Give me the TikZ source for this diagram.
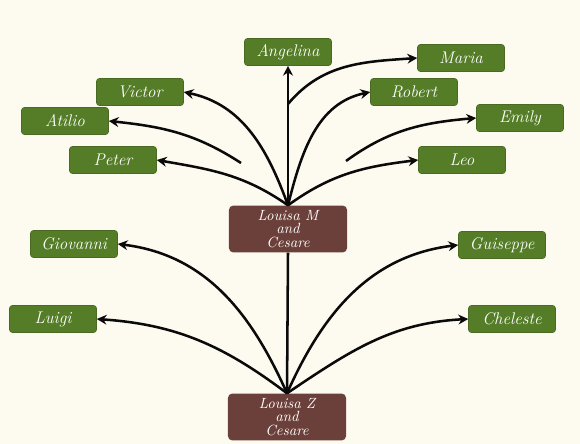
\documentclass[tikz,border=0pt]{standalone}
\usepackage{xcolor}
\usepackage{tikz}
\usetikzlibrary{arrows.meta, positioning, calc}
\definecolor{leafgreen}{RGB}{85,125,40}
\definecolor{barkbrown}{RGB}{108,64,58}
\definecolor{paper}{RGB}{253,250,240}
\definecolor{inkblack}{RGB}{10,10,10}

\begin{document}
\begin{tikzpicture}[
  x=0.025cm, y=-0.025cm,
  person/.style={draw=leafgreen!85!black, fill=leafgreen, rounded corners=2pt,
                 minimum width=2.175cm, minimum height=0.675cm, inner sep=1pt,
                 text=white, font=\fontsize{12}{14}\selectfont\itshape},
  couple/.style={fill=barkbrown, rounded corners=3pt,
                 minimum width=2.95cm, minimum height=1.17cm, inner sep=1pt,
                 text=white, align=center,
                 font=\fontsize{10.5}{9.6}\selectfont\itshape},
  arrow/.style={-{Stealth[length=7pt,width=7pt]}, line width=1.8pt, inkblack},
  link/.style={line width=1.8pt, inkblack},
]
\fill[paper] (0,0) rectangle (580,444);
\useasboundingbox (0,0) rectangle (580,444);

%% Couples
\node[couple] (m) at (288,229) {Louisa M\\and\\Cesare};
\node[couple] (z) at (287,417) {Louisa Z\\and\\Cesare};

%% Children of Louisa M
\node[person] (angelina) at (288,52)  {Angelina};
\node[person] (maria)    at (461,58)  {Maria};
\node[person] (victor)   at (140,92)  {Victor};
\node[person] (robert)   at (414,92)  {Robert};
\node[person] (atilio)   at (65,121)  {Atilio};
\node[person] (emily)    at (520,118) {Emily};
\node[person] (peter)    at (113,160) {Peter};
\node[person] (leo)      at (462,160) {Leo};

%% Children of Louisa Z
\node[person] (giovanni) at (74,244)  {Giovanni};
\node[person] (guiseppe) at (502,245) {Guiseppe};
\node[person] (luigi)    at (53,319)  {Luigi};
\node[person] (cheleste) at (512,319) {Cheleste};

%% Loose tails
\coordinate (atiliotail) at (241,163);
\coordinate (emilytail)  at (346,161);
\coordinate (mariatail)  at (288,104);

%% Upper fan
\draw[arrow] (m.north) to[out=145, in=-10] (peter.east);
\draw[arrow] (m.north) to[out=110, in=-12] (victor.east);
\draw[arrow] (m.north) -- (angelina.south);
\draw[arrow] (m.north) to[out=76, in=192] (robert.west);
\draw[arrow] (m.north) to[out=36, in=187] (leo.west);
\draw[arrow] (atiliotail) to[out=147, in=-6] (atilio.east);
\draw[arrow] (emilytail) to[out=36, in=185] (emily.west);
\draw[arrow] (mariatail) to[out=50, in=184] (maria.west);

%% Lower fan
\draw[link]  (z.north) -- (m.south);
\draw[arrow] (z.north) to[out=114, in=-7] (giovanni.east);
\draw[arrow] (z.north) to[out=143, in=-4] (luigi.east);
\draw[arrow] (z.north) to[out=66, in=187] (guiseppe.west);
\draw[arrow] (z.north) to[out=34, in=183] (cheleste.west);

\end{tikzpicture}
\end{document}
